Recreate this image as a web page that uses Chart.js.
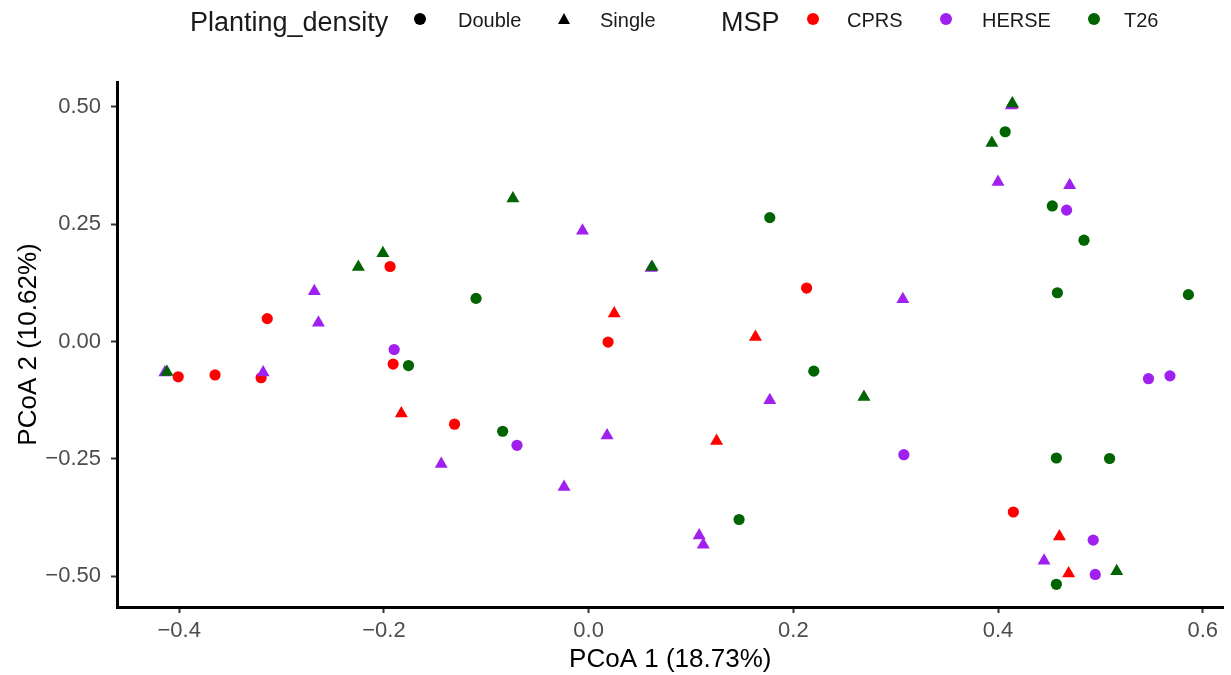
<!DOCTYPE html>
<html>
<head>
<meta charset="utf-8">
<script src="https://cdn.jsdelivr.net/npm/chart.js@4/dist/chart.umd.min.js"></script>
<style>
  body { margin: 0; background: #fff; }
  #wrap { position: relative; width: 1231px; height: 675px; }
  #chart { position: absolute; left: 0; top: 0; }
  .lg { position: absolute; font-family: "Liberation Sans", Arial, sans-serif; color: #1a1a1a; white-space: nowrap; }
  .lg-title { font-size: 27px; line-height: 27px; top: 9px; }
  .lg-item { font-size: 20px; line-height: 20px; top: 10px; }
  .dot { position: absolute; width: 12px; height: 12px; border-radius: 50%; top: 13px; }
  .tri { position: absolute; width: 0; height: 0; top: 13px;
         border-left: 6.5px solid transparent; border-right: 6.5px solid transparent; border-bottom: 11px solid #000; }
</style>
</head>
<body>
<div id="wrap">
  <canvas id="chart" width="1231" height="675"></canvas>
  <!-- legend, ggplot style: two titled groups on one row -->
  <span class="lg lg-title" style="left:190px">Planting_density</span>
  <span class="dot" style="left:414px;background:#000"></span>
  <span class="lg lg-item" style="left:458px">Double</span>
  <span class="tri" style="left:558px"></span>
  <span class="lg lg-item" style="left:600px">Single</span>
  <span class="lg lg-title" style="left:721px">MSP</span>
  <span class="dot" style="left:807px;background:#FF0000"></span>
  <span class="lg lg-item" style="left:847px">CPRS</span>
  <span class="dot" style="left:940px;background:#A020F0"></span>
  <span class="lg lg-item" style="left:982px">HERSE</span>
  <span class="dot" style="left:1088px;background:#006400"></span>
  <span class="lg lg-item" style="left:1124px">T26</span>
</div>
<script>
// PCoA coordinates [PCoA1, PCoA2]
const cprsDouble = [[-0.194, 0.160], [-0.314, 0.049], [-0.191, -0.048], [-0.401, -0.075], [-0.365, -0.071],
  [-0.320, -0.077], [-0.131, -0.176], [0.019, -0.001], [0.213, 0.114], [0.415, -0.363]];
const cprsSingle = [[-0.183, -0.153], [0.025, 0.060], [0.163, 0.010], [0.125, -0.212], [0.460, -0.415],
  [0.469, -0.494], [0.414, 0.505]];
const herseDouble = [[-0.190, -0.017], [-0.070, -0.221], [0.308, -0.241], [0.467, 0.280], [0.547, -0.079],
  [0.568, -0.073], [0.493, -0.423], [0.495, -0.496]];
const herseSingle = [[-0.268, 0.107], [-0.264, 0.040], [-0.318, -0.066], [-0.144, -0.261], [-0.024, -0.310],
  [0.018, -0.200], [-0.006, 0.236], [0.177, -0.125], [0.307, 0.090], [0.108, -0.413], [0.112, -0.433],
  [0.400, 0.340], [0.470, 0.333], [0.445, -0.467], [-0.414, -0.066], [0.061, 0.157], [0.413, 0.503]];
const t26Double = [[-0.110, 0.092], [-0.176, -0.051], [-0.084, -0.191], [0.177, 0.264], [0.220, -0.063],
  [0.147, -0.379], [0.407, 0.447], [0.453, 0.289], [0.484, 0.216], [0.458, 0.104], [0.586, 0.100],
  [0.457, -0.248], [0.509, -0.249], [0.457, -0.517]];
const t26Single = [[-0.412, -0.065], [-0.225, 0.159], [-0.201, 0.188], [-0.074, 0.305], [0.062, 0.159],
  [0.269, -0.118], [0.394, 0.423], [0.414, 0.507], [0.516, -0.489]];

const xTicks = [-0.4, -0.2, 0, 0.2, 0.4, 0.6];
const yTicks = [-0.5, -0.25, 0, 0.25, 0.5];

const colors = { CPRS: '#FF0000', HERSE: '#A020F0', T26: '#006400' };

function pts(arr) {
  return arr.map(p => ({ x: p[0], y: p[1] }));
}
function series(label, arr, msp, single) {
  return {
    label: label,
    data: pts(arr),
    backgroundColor: colors[msp],
    borderWidth: 0,
    pointStyle: single ? 'triangle' : 'circle',
    pointRadius: single ? 7.5 : 5.6
  };
}
const minus = v => String(v).replace('-', '\u2212');

// first dataset is drawn on top in Chart.js
const datasets = [
  series('T26 Single', t26Single, 'T26', true),
  series('T26 Double', t26Double, 'T26', false),
  series('HERSE Single', herseSingle, 'HERSE', true),
  series('HERSE Double', herseDouble, 'HERSE', false),
  series('CPRS Single', cprsSingle, 'CPRS', true),
  series('CPRS Double', cprsDouble, 'CPRS', false)
];

const tickFont = { family: '"Liberation Sans", Arial, sans-serif', size: 22 };
const titleFont = { family: '"Liberation Sans", Arial, sans-serif', size: 26 };

new Chart(document.getElementById('chart').getContext('2d'), {
  type: 'scatter',
  data: { datasets: datasets },
  options: {
    responsive: false,
    animation: false,
    layout: { padding: { top: 82, right: 1, left: 0, bottom: 0 } },
    plugins: { legend: { display: false }, tooltip: { enabled: false } },
    scales: {
      x: {
        type: 'linear',
        min: -0.4608,
        max: 0.6203,
        afterBuildTicks: s => { s.ticks = xTicks.map(v => ({ value: v })); },
        afterFit: s => { s.height = 68; },
        border: { display: true, color: '#000', width: 3 },
        grid: { display: true, drawOnChartArea: false, drawTicks: true, tickLength: 6, tickWidth: 2, tickColor: '#333' },
        ticks: {
          color: '#4D4D4D', font: tickFont, padding: 5, maxRotation: 0,
          callback: v => minus(v.toFixed(1))
        },
        title: { display: true, text: 'PCoA 1 (18.73%)', color: '#000', font: titleFont, padding: 0 }
      },
      y: {
        type: 'linear',
        min: -0.5654,
        max: 0.553,
        afterBuildTicks: s => { s.ticks = yTicks.map(v => ({ value: v })); },
        afterFit: s => { s.width = 117; },
        border: { display: true, color: '#000', width: 3 },
        grid: { display: true, drawOnChartArea: false, drawTicks: true, tickLength: 6, tickWidth: 2, tickColor: '#333' },
        ticks: {
          color: '#4D4D4D', font: tickFont, padding: 10,
          callback: v => minus(v.toFixed(2))
        },
        title: { display: true, text: 'PCoA 2 (10.62%)', color: '#000', font: titleFont, padding: { top: 13, bottom: 0 } }
      }
    }
  }
});
</script>
</body>
</html>
